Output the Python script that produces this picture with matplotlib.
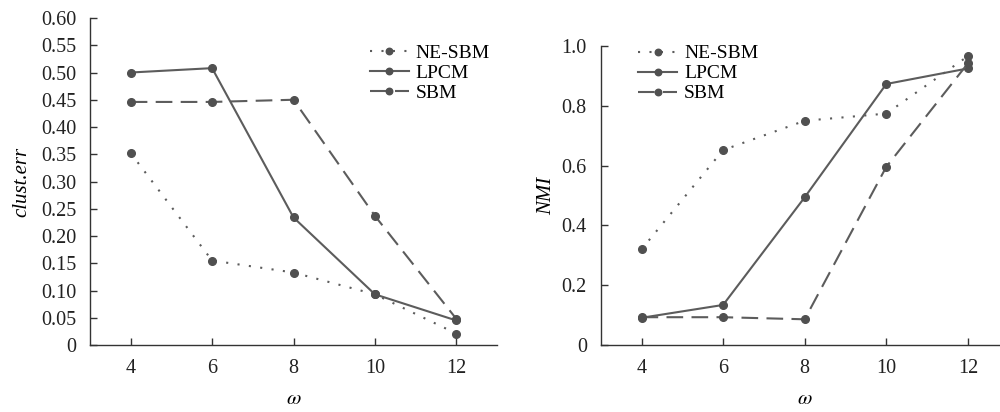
import numpy as np
import matplotlib.pyplot as plt
from matplotlib import font_manager

installed = {f.name for f in font_manager.fontManager.ttflist}
serif = [f for f in ['Liberation Serif', 'Nimbus Roman', 'TeX Gyre Termes',
                     'STIXGeneral', 'DejaVu Serif'] if f in installed]
plt.rcParams['font.family'] = serif
plt.rcParams['mathtext.fontset'] = 'stix'

omega = [4, 6, 8, 10, 12]
names = ["NE-SBM", "LPCM", "SBM"]

# clust.err
err_nesbm = [0.352, 0.155, 0.133, 0.093, 0.021]
err_lpcm = [0.500, 0.508, 0.234, 0.093, 0.045]
err_sbm = [0.446, 0.446, 0.450, 0.237, 0.048]

# NMI
nmi_nesbm = [0.320, 0.652, 0.750, 0.774, 0.966]
nmi_lpcm = [0.091, 0.134, 0.494, 0.873, 0.925]
nmi_sbm = [0.093, 0.093, 0.086, 0.596, 0.942]

line_col = '#5c5c5c'
styles = [(0, (1, 4.5)), '-', (0, (8, 4))]


def draw(ax, series, ylabel, yticks, yticklabels, ylim, ypad):
    for vals, ls, name in zip(series, styles, names):
        ax.plot(omega, vals, linestyle=ls, color=line_col, lw=1.5,
                marker='o', ms=5.5, mfc='#505050', mec='#505050', label=name)
    ax.set_xlim(3, 13)
    ax.set_ylim(*ylim)
    ax.set_xticks(omega)
    ax.set_yticks(yticks)
    ax.set_yticklabels(yticklabels)
    ax.spines['top'].set_visible(False)
    ax.spines['right'].set_visible(False)
    for s in ['left', 'bottom']:
        ax.spines[s].set_color('#333333')
        ax.spines[s].set_linewidth(1.0)
    ax.tick_params(direction='in', length=5, width=1, colors='#333333',
                   labelsize=14.5, labelcolor='#222222', pad=10)
    ax.set_xlabel(r'$\omega$', fontsize=15, labelpad=9)
    ax.set_ylabel(ylabel, fontsize=15, fontstyle='italic', labelpad=ypad)


fig = plt.figure(figsize=(10, 4.12), dpi=100)
ax1 = fig.add_axes([0.09, 0.1626, 0.407, 0.7937])
ax2 = fig.add_axes([0.6007, 0.1626, 0.408, 0.7257])

draw(ax1, [err_nesbm, err_lpcm, err_sbm], 'clust.err',
     np.arange(0, 0.61, 0.05),
     ['0'] + ['%.2f' % v for v in np.arange(0.05, 0.61, 0.05)], (0, 0.6), 7)
draw(ax2, [nmi_nesbm, nmi_lpcm, nmi_sbm], 'NMI',
     [0, 0.2, 0.4, 0.6, 0.8, 1.0], ['0', '0.2', '0.4', '0.6', '0.8', '1.0'],
     (0, 1.0), 4)

leg_kw = dict(frameon=False, fontsize=14, handlelength=2.0,
              handletextpad=0.35, labelspacing=0.12, borderaxespad=0,
              markerscale=0.85)
ax1.legend(loc='upper left', bbox_to_anchor=(0.668, 0.943), **leg_kw)
ax2.legend(loc='upper left', bbox_to_anchor=(0.073, 1.03), **leg_kw)

fig.savefig('out.png', dpi=100)
